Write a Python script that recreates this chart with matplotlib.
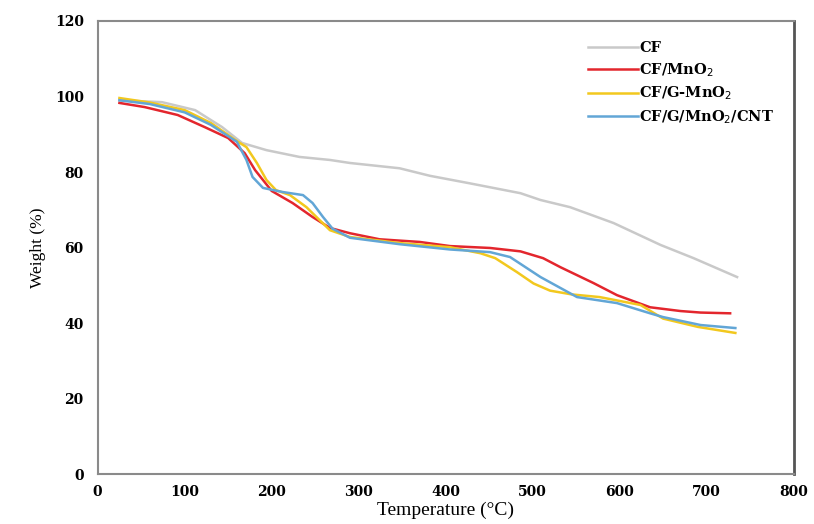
import numpy as np
import matplotlib
matplotlib.use("Agg")
import matplotlib.pyplot as plt

# TGA curves (temperature in C, weight in %)
t_cf = [25, 74, 112, 143, 166, 194, 232, 267, 290, 347, 382, 428, 486, 509, 543, 593, 647, 685, 735]
w_cf = [99.0, 98.5, 96.4, 91.9, 87.7, 85.8, 84.0, 83.2, 82.4, 81.0, 79.0, 77.0, 74.4, 72.6, 70.7, 66.5, 60.7, 57.2, 52.2]

t_mno2 = [25, 54, 92, 123, 150, 169, 181, 200, 224, 247, 267, 290, 324, 370, 405, 451, 486, 512, 532, 570, 597, 635, 670, 693, 727]
w_mno2 = [98.3, 97.2, 95.1, 91.9, 89.0, 85.0, 80.5, 75.0, 71.8, 68.1, 65.2, 63.8, 62.2, 61.5, 60.4, 59.9, 59.0, 57.2, 54.8, 50.6, 47.4, 44.2, 43.2, 42.8, 42.6]

t_gmno2 = [25, 60, 100, 130, 160, 171, 183, 194, 205, 221, 240, 255, 267, 290, 347, 405, 440, 457, 482, 501, 520, 545, 577, 624, 650, 690, 733]
w_gmno2 = [99.6, 98.4, 96.4, 93.0, 88.2, 86.6, 82.4, 77.9, 75.2, 73.9, 70.7, 67.3, 64.6, 62.8, 61.2, 60.1, 58.5, 57.2, 53.5, 50.5, 48.6, 47.6, 46.9, 44.8, 41.2, 39.0, 37.4]

t_cnt = [25, 60, 100, 130, 160, 171, 178, 190, 213, 236, 247, 259, 270, 290, 347, 405, 451, 474, 509, 551, 597, 635, 650, 693, 733]
w_cnt = [99.0, 98.0, 95.8, 92.5, 88.0, 83.2, 78.7, 75.8, 74.7, 73.9, 71.8, 68.1, 65.0, 62.6, 60.9, 59.5, 58.8, 57.5, 52.2, 46.9, 45.3, 42.6, 41.6, 39.5, 38.7]

labels = ["CF", "CF/MnO$_2$", "CF/G-MnO$_2$", "CF/G/MnO$_2$/CNT"]
colors = ["#c9c9c9", "#e3262d", "#f2c81e", "#62a6d6"]

fig = plt.figure(figsize=(8.14, 5.24), dpi=100)
ax = fig.add_axes([0.120, 0.095, 0.855, 0.865])

series = [(t_cf, w_cf), (t_mno2, w_mno2), (t_gmno2, w_gmno2), (t_cnt, w_cnt)]
for (t, w), lab, c in zip(series, labels, colors):
    ax.plot(t, w, color=c, lw=1.8, label=lab)

ax.set_xlim(0, 800)
ax.set_ylim(0, 120)
ax.set_xticks(np.arange(0, 801, 100))
ax.set_yticks(np.arange(0, 121, 20))
ax.tick_params(axis="y", length=0, pad=10)
ax.tick_params(axis="x", length=0, pad=8)
for lbl in ax.get_xticklabels() + ax.get_yticklabels():
    lbl.set_fontfamily("DejaVu Serif")
    lbl.set_fontweight("bold")
    lbl.set_fontsize(10)

for side in ["left", "bottom", "top"]:
    ax.spines[side].set_color("#8a8a8a")
    ax.spines[side].set_linewidth(1.5)
ax.spines["right"].set_color("#555555")
ax.spines["right"].set_linewidth(2)

ax.set_xlabel("Temperature (\u00b0C)", fontfamily="Liberation Serif", fontsize=14, labelpad=2)
ax.set_ylabel("Weight (%)", fontfamily="Liberation Serif", fontsize=12.5, labelpad=6)

leg = ax.legend(loc="upper left", bbox_to_anchor=(0.705, 0.955), frameon=False,
                borderaxespad=0, borderpad=0,
                handlelength=3.4, handletextpad=0.1, labelspacing=0.4,
                prop={"family": "DejaVu Serif", "weight": "bold", "size": 10.5})

fig.savefig("out.png", dpi=100)
